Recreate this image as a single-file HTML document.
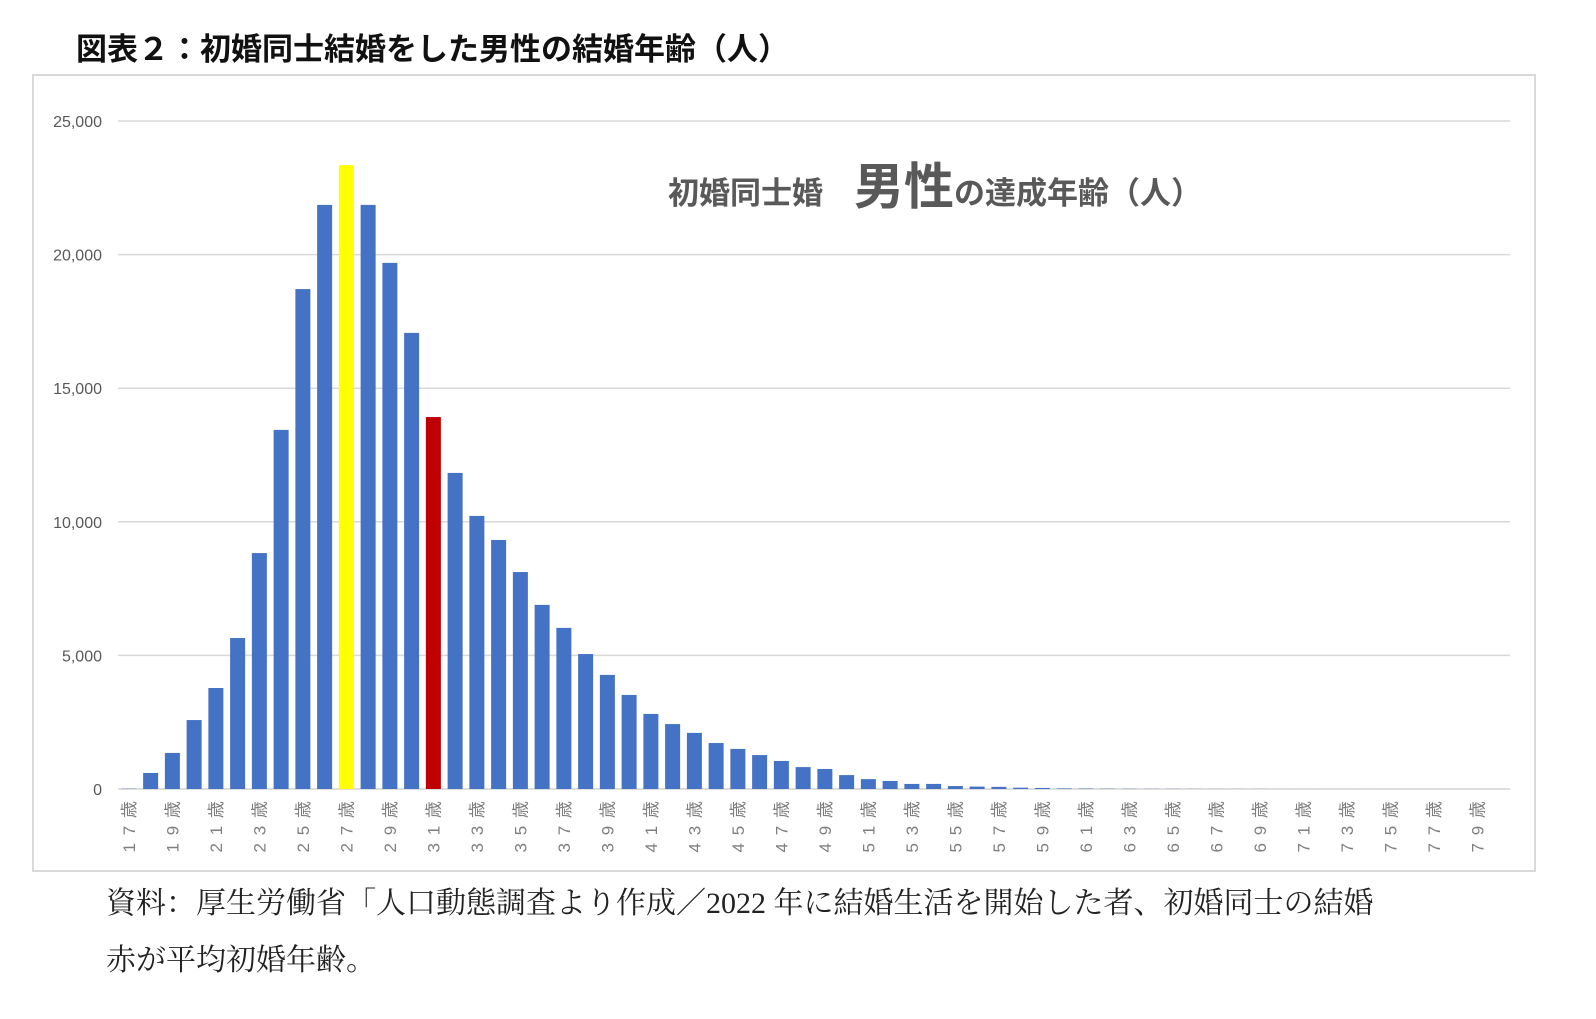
<!DOCTYPE html>
<html><head><meta charset="utf-8">
<style>
body{margin:0;background:#fff;width:1596px;height:1019px;position:relative;overflow:hidden;font-family:"Liberation Sans","Noto Sans CJK JP",sans-serif;}
#title{position:absolute;left:76px;top:24px;font-size:31px;font-weight:bold;color:#111;white-space:nowrap;}
#box{position:absolute;left:32px;top:74px;width:1500px;height:794px;border:2px solid #d9d9d9;}
.note{position:absolute;left:106px;font-family:"Liberation Serif","Noto Serif CJK SC",serif;font-size:30px;color:#222;white-space:nowrap;}
</style></head><body>
<div id="title">図表２：初婚同士結婚をした男性の結婚年齢（人）</div>
<div id="box"></div>
<svg id="chart" width="1596" height="1019" style="position:absolute;left:0;top:0">
<g id="grid"></g><g id="bars"></g><g id="ylab"></g><g id="xlab"></g>
<text x="668" y="204" font-size="31" font-weight="bold" fill="#595959" font-family="Liberation Sans, Noto Sans CJK JP, sans-serif">初婚同士婚　<tspan font-size="50">男性</tspan>の達成年齢（人）</text>
</svg>
<div class="note" style="top:878px">資料：厚生労働省「人口動態調査より作成／2022 年に結婚生活を開始した者、初婚同士の結婚</div>
<div class="note" style="top:935px">赤が平均初婚年齢。</div>
<script>
const ages=[17,18,19,20,21,22,23,24,25,26,27,28,29,30,31,32,33,34,35,36,37,38,39,40,41,42,43,44,45,46,47,48,49,50,51,52,53,54,55,56,57,58,59,60,61,62,63,64,65,66,67,68,69,70,71,72,73,74,75,76,77,78,79,80];
const counts=[10,600,1350,2580,3780,5650,8830,13440,18710,21860,23350,21860,19690,17070,13920,11830,10220,9320,8120,6890,6030,5050,4270,3520,2810,2430,2100,1720,1500,1270,1050,820,750,520,370,300,190,190,110,90,80,50,40,20,15,10,8,6,5,4,3,2,2,1,1,1,1,1,0,0,0,0,0,0];
const yTicks=[0,5000,10000,15000,20000,25000];
const highlightYellow=27, highlightRed=31;
const ns='http://www.w3.org/2000/svg';
const x0=118,x1=1510,y0=789,y1=121,yMax=25000;
const step=(x1-x0)/ages.length;
const yS=v=>y0-(v/yMax)*(y0-y1);
const xC=i=>x0+step*(i+0.5);
const grid=document.getElementById('grid'),bars=document.getElementById('bars'),yl=document.getElementById('ylab'),xl=document.getElementById('xlab');
yTicks.forEach(t=>{
 const l=document.createElementNS(ns,'line');
 
 
 l.setAttribute('x1',x0);l.setAttribute('x2',x1);l.setAttribute('y1',yS(t));l.setAttribute('y2',yS(t));
 l.setAttribute('stroke','#d9d9d9');l.setAttribute('stroke-width','1.5');grid.appendChild(l);
 const tx=document.createElementNS(ns,'text');
 
 
 tx.setAttribute('x',102);tx.setAttribute('y',yS(t)+6);tx.setAttribute('text-anchor','end');
 tx.setAttribute('font-size','16');tx.setAttribute('fill','#595959');
 tx.textContent=t.toLocaleString('en-US');yl.appendChild(tx);
});
ages.forEach((a,i)=>{
 const v=counts[i];const bw=15;
 const r=document.createElementNS(ns,'rect');
 
 
 r.setAttribute('x',xC(i)-bw/2);r.setAttribute('width',bw);
 r.setAttribute('y',yS(v));r.setAttribute('height',Math.max(0,y0-yS(v)));
 r.setAttribute('fill',a===highlightYellow?'#ffff00':a===highlightRed?'#c00000':'#4472c4');
 bars.appendChild(r);
 if(a%2===1){
  const tx=document.createElementNS(ns,'text');
  
  
  const cx=xC(i)+6,cy=826;
  tx.setAttribute('x',cx);tx.setAttribute('y',cy);tx.setAttribute('text-anchor','middle');
  tx.setAttribute('transform','rotate(-90 '+cx+' '+cy+')');
  tx.setAttribute('font-size','17');tx.setAttribute('fill','#7f7f7f');
  tx.setAttribute('letter-spacing','1.5');
  const s=String(a);
  tx.textContent=s[0]+' '+s[1]+' 歳';xl.appendChild(tx);
 }
});
const ax=document.createElementNS(ns,'line');


ax.setAttribute('x1',x0);ax.setAttribute('x2',x1);ax.setAttribute('y1',y0);ax.setAttribute('y2',y0);
ax.setAttribute('stroke','#d9d9d9');ax.setAttribute('stroke-width','1.5');grid.appendChild(ax);
</script>
</body></html>
